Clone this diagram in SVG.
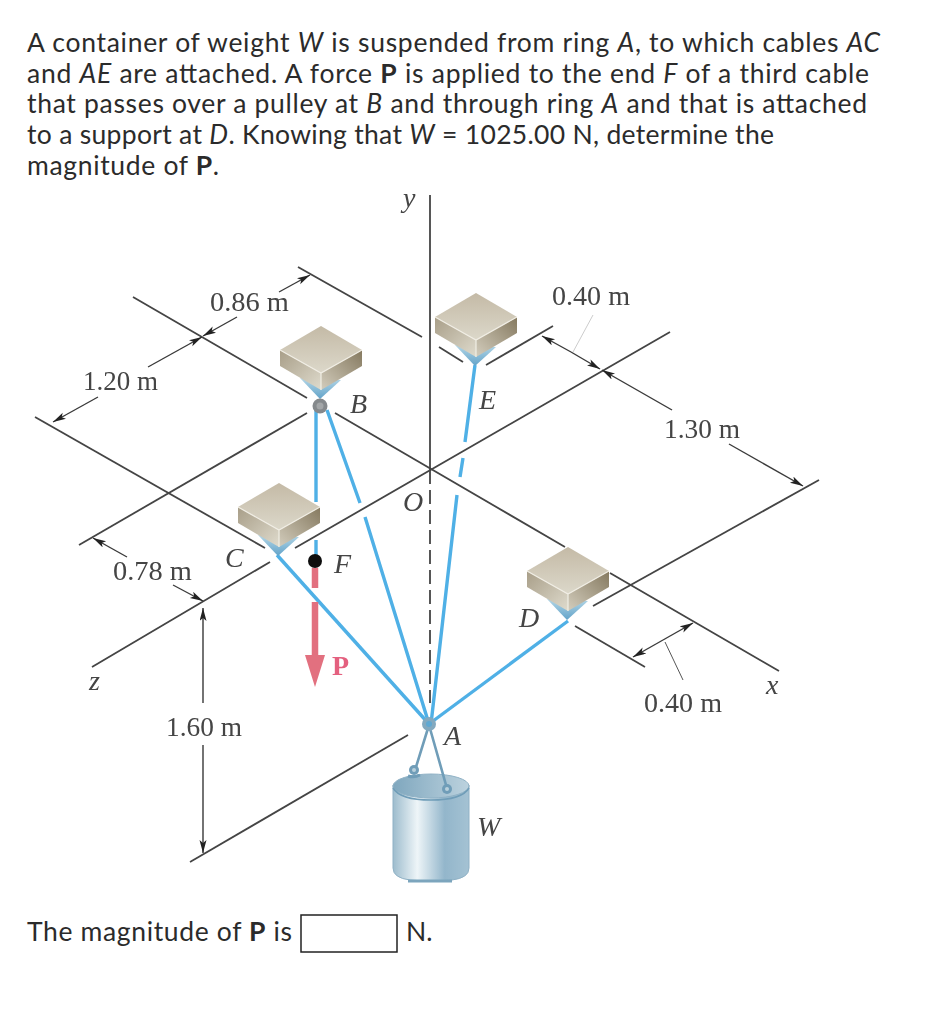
<svg xmlns="http://www.w3.org/2000/svg" width="935" height="1024" viewBox="0 0 935 1024">
<style>
.q{font-family:"Lato","Open Sans",sans-serif;font-size:26.5px;fill:#2b2b2b}
.q .i{font-style:italic}.q .b{font-weight:700}
.d{font-family:"Liberation Serif",serif;font-size:27px;fill:#444}
.l{font-family:"Liberation Serif",serif;font-size:28px;font-style:italic;fill:#444}
.p{fill:none;stroke:#444;stroke-width:1.8}
.t{fill:none;stroke:#3a3a3a;stroke-width:1.4;marker-end:url(#ah)}
.c{fill:none;stroke:#4fb0e6;stroke-width:3.4}
.h{fill:none;stroke:#6f9db8;stroke-width:2.6}
</style>
<defs>
<marker id="ah" markerUnits="userSpaceOnUse" markerWidth="16" markerHeight="10" refX="13" refY="3.5" orient="auto"><path d="M0 0L13 3.5L0 7L3 3.5Z" fill="#222"/></marker>
<linearGradient id="gt" x1="0" y1="0" x2="0" y2="1"><stop offset="0" stop-color="#c4baa6"/><stop offset="1" stop-color="#dcd8ca"/></linearGradient>
<linearGradient id="gl" x1="0" y1="0" x2="1" y2="1"><stop offset="0" stop-color="#a89e88"/><stop offset="1" stop-color="#dfdbcd"/></linearGradient>
<linearGradient id="gr" x1="0" y1="1" x2="1" y2="0"><stop offset="0" stop-color="#d3cdbd"/><stop offset="1" stop-color="#85795f"/></linearGradient>
<linearGradient id="gf" x1="0" y1="0" x2="0" y2="1"><stop offset="0" stop-color="#b4d6e6"/><stop offset="1" stop-color="#62a3c9"/></linearGradient>
<linearGradient id="gc" x1="0" y1="0" x2="1" y2="0"><stop offset="0" stop-color="#9dbccd"/><stop offset=".32" stop-color="#eef5f8"/><stop offset=".68" stop-color="#93b6cb"/><stop offset="1" stop-color="#a4c2d3"/></linearGradient>
<linearGradient id="gi" x1="0" y1="0" x2="1" y2="0"><stop offset="0" stop-color="#7fa7be"/><stop offset="1" stop-color="#bcd2de"/></linearGradient>
<g id="box">
<path d="M-21 52L20 54L-1 73Z" fill="url(#gf)"/>
<path d="M-41 24L0 0L41 24L0 47Z" fill="url(#gt)"/>
<path d="M-41 24L0 47V64L-41 40Z" fill="url(#gl)"/>
<path d="M41 24L0 47V64L41 40Z" fill="url(#gr)"/>
<path d="M-41 24L0 47L41 24M0 47V64" fill="none" stroke="#f1eee5" stroke-width="1.2"/>
</g>
<filter id="soft" x="-5%" y="-5%" width="110%" height="110%"><feGaussianBlur stdDeviation="0.55"/></filter>
</defs>
<rect width="935" height="1024" fill="#fff"/>
<g id="question">
<text class="q" x="27" y="52" textLength="853">A container of weight <tspan class="i">W</tspan> is suspended from ring <tspan class="i">A</tspan>, to which cables <tspan class="i">AC</tspan></text>
<text class="q" x="27" y="83" textLength="842">and <tspan class="i">AE</tspan> are attached. A force <tspan class="b">P</tspan> is applied to the end <tspan class="i">F</tspan> of a third cable</text>
<text class="q" x="27" y="113" textLength="840">that passes over a pulley at <tspan class="i">B</tspan> and through ring <tspan class="i">A</tspan> and that is attached</text>
<text class="q" x="27" y="144" textLength="747">to a support at <tspan class="i">D</tspan>. Knowing that <tspan class="i">W</tspan> = 1025.00 N, determine the</text>
<text class="q" x="27" y="175" textLength="192">magnitude of <tspan class="b">P</tspan>.</text>
</g>
<g filter="url(#soft)">
<g id="connectors">
<g id="axes-and-guides">
<path class="p" d="M430 195V470"/>
<path class="p" d="M430 470V703" stroke-dasharray="14 6"/>
<path class="p" d="M133 297L307 398M335 413L565 547M610 573L779 671"/>
<path class="p" d="M35 417L265 548"/>
<path class="p" d="M298 267L422 337M439 347L463 362"/>
<path class="p" d="M670 332L295 548M270 562L92 667"/>
<path class="p" d="M79 545L307 413"/>
<path class="p" d="M486 365L553 326"/>
<path class="p" d="M593 606L819 480"/>
<path class="p" d="M575 626L645 667"/>
<path class="p" d="M408 735L190 862"/>
</g>
<g id="dimensions">
<path class="t" d="M148 367L202 337"/><path class="t" d="M98 397L53 422"/>
<path class="t" d="M237 317L203 336"/><path class="t" d="M279 292L310 275"/>
<path class="t" d="M127 557L93 538"/><path class="t" d="M173 585L203 601"/>
<path class="t" d="M203 703V608"/><path class="t" d="M203 745V853"/>
<path class="t" d="M571 352L542 336"/><path class="t" d="M571 352L600 369"/><path class="t" d="M672 410L602 370"/>
<path d="M593 315L573 352" fill="none" stroke="#ccc" stroke-width="1"/>
<path class="t" d="M729 444L803 486"/>
<path class="t" d="M663 640L693 623"/><path class="t" d="M663 640L633 657"/>
<path d="M665 642L683 680" fill="none" stroke="#555" stroke-width="1"/>
</g>
<g id="cables">
<path class="c" d="M316 410V502M316 540V557"/>
<path class="c" d="M327 410L360 503M365 517L429 724"/>
<path class="c" d="M277 555L429 724"/>
<path class="c" d="M475 365L465 442M463 458L460 477M457 495L431 724"/>
<path class="c" d="M568 621L429 724"/>
</g>
</g>
<g id="box-B"><use href="#box" x="321" y="326"/></g>
<g id="box-C"><use href="#box" x="279" y="483"/></g>
<g id="box-E"><use href="#box" x="476" y="293"/></g>
<g id="box-D"><use href="#box" x="568" y="547"/></g>
<g id="pulley-B"><circle cx="320" cy="406" r="7.5" fill="#85898c"/><circle cx="320" cy="406" r="3.5" fill="#a3a6a8"/></g>
<g id="point-F"><circle cx="315" cy="561" r="7" fill="#111"/></g>
<g id="force-P">
<path d="M315 568V588M315 602V655" fill="none" stroke="#e2707f" stroke-width="6.5"/>
<path d="M305 655H325L315 687Z" fill="#e2707f"/>
</g>
<g id="container-W">
<path d="M393 785V868Q393 878 410 880Q431 883 452 880Q469 878 469 868V785Z" fill="url(#gc)" stroke="#8fb1c5"/>
<ellipse cx="431" cy="786" rx="38" ry="12" fill="url(#gi)" stroke="#8fb1c5"/>
<path d="M393 788Q400 800 431 800Q462 800 469 788" fill="none" stroke="#6f9db8" stroke-width="1.5"/>
<path class="h" d="M429 725L416 767M429 725L446 785"/>
<path d="M408 776Q414 778 420 775" fill="none" stroke="#6f9db8" stroke-width="3"/>
<circle cx="414" cy="770" r="5" fill="#6f9db8"/><circle cx="414" cy="770" r="2" fill="#b9d0dc"/>
<circle cx="447" cy="789" r="5" fill="#6f9db8"/><circle cx="447" cy="789" r="2" fill="#b9d0dc"/>
<path d="M408 881H452" stroke="#7ba5bd" stroke-width="3"/>
</g>
<g id="ring-A"><circle cx="429" cy="724" r="7" fill="#83a9bf"/><circle cx="429" cy="724" r="3" fill="#5fa8d2"/></g>
<g id="labels">
<text class="d" x="210" y="311" textLength="79" lengthAdjust="spacingAndGlyphs">0.86 m</text>
<text class="d" x="83" y="390" textLength="75" lengthAdjust="spacingAndGlyphs">1.20 m</text>
<text class="d" x="552" y="305" textLength="78" lengthAdjust="spacingAndGlyphs">0.40 m</text>
<text class="d" x="664" y="438" textLength="76" lengthAdjust="spacingAndGlyphs">1.30 m</text>
<text class="d" x="113" y="580" textLength="79" lengthAdjust="spacingAndGlyphs">0.78 m</text>
<text class="d" x="166" y="736" textLength="76" lengthAdjust="spacingAndGlyphs">1.60 m</text>
<text class="d" x="644" y="712" textLength="78" lengthAdjust="spacingAndGlyphs">0.40 m</text>
<text class="l" x="403" y="207">y</text>
<text class="l" x="403" y="511">O</text>
<text class="l" x="350" y="413">B</text>
<text class="l" x="479" y="409">E</text>
<text class="l" x="225" y="567">C</text>
<text class="l" x="334" y="573">F</text>
<text x="332" y="675" font-family="Liberation Serif,serif" font-size="28" font-weight="700" fill="#e4607f">P</text>
<text class="l" x="444" y="745">A</text>
<text class="l" x="519" y="627">D</text>
<text class="l" x="477" y="836">W</text>
<text class="l" x="766" y="694">x</text>
<text class="l" x="89" y="690">z</text>
</g>
</g>
<g id="answer">
<text class="q" x="27" y="941" textLength="265">The magnitude of <tspan class="b">P</tspan> is</text>
<rect x="301" y="915" width="96" height="37" fill="#fff" stroke="#222" stroke-width="1.5"/>
<text class="q" x="406" y="941">N.</text>
</g>
</svg>
